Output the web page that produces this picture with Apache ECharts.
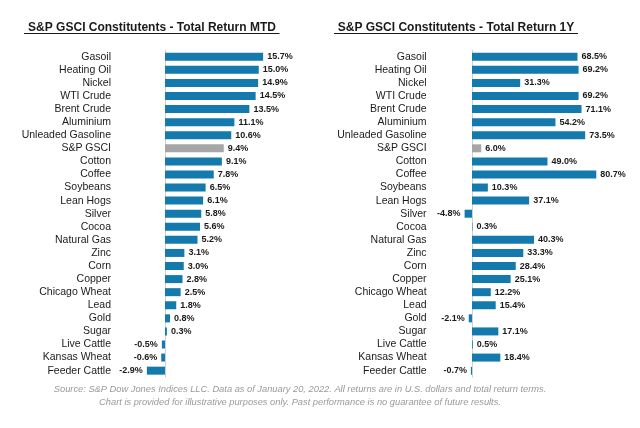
<!DOCTYPE html>
<html>
<head>
<meta charset="utf-8">
<script src="https://cdn.jsdelivr.net/npm/echarts@6/dist/echarts.min.js"></script>
<style>
html,body{margin:0;padding:0;background:#fff;}
#c{width:640px;height:428px;}
</style>
</head>
<body>
<div id="c"></div>
<script>
const categories = ["Gasoil","Heating Oil","Nickel","WTI Crude","Brent Crude","Aluminium","Unleaded Gasoline","S&P GSCI","Cotton","Coffee","Soybeans","Lean Hogs","Silver","Cocoa","Natural Gas","Zinc","Corn","Copper","Chicago Wheat","Lead","Gold","Sugar","Live Cattle","Kansas Wheat","Feeder Cattle"];
const mtdValues = [15.7,15.0,14.9,14.5,13.5,11.1,10.6,9.4,9.1,7.8,6.5,6.1,5.8,5.6,5.2,3.1,3.0,2.8,2.5,1.8,0.8,0.3,-0.5,-0.6,-2.9];
const oneYearValues = [68.5,69.2,31.3,69.2,71.1,54.2,73.5,6.0,49.0,80.7,10.3,37.1,-4.8,0.3,40.3,33.3,28.4,25.1,12.2,15.4,-2.1,17.1,0.5,18.4,-0.7];
const titleLeft = "S&P GSCI Constitutents - Total Return MTD";
const titleRight = "S&P GSCI Constitutents - Total Return 1Y";
const footer1 = "Source: S&P Dow Jones Indices LLC. Data as of January 20, 2022. All returns are in U.S. dollars and total return terms.";
const footer2 = "Chart is provided for illustrative purposes only. Past performance is no guarantee of future results.";

const FONT = "'Liberation Sans', Arial, sans-serif";
const BLUE = "#1479AD";
const GREY = "#A6A6A6";

function mkData(vals){
  return vals.map((v,i)=>({
    value: v,
    itemStyle: {color: categories[i]==="S&P GSCI" ? GREY : BLUE},
    label: {position: v < 0 ? 'left' : 'right'}
  }));
}

const chart = echarts.init(document.getElementById('c'), null, {renderer:'canvas'});
const gridTop = 50.2, gridH = 327;
const yAxisCommon = {
  type:'category', data: categories, inverse:true,
  axisLine:{onZero:true, lineStyle:{color:'#d0d0d0', width:1}},
  axisTick:{show:false},
  axisLabel:{color:'#1a1a1a', fontSize:10.5, fontFamily:FONT, interval:0}
};
const xAxisCommon = {type:'value', show:false, splitLine:{show:false}};
const seriesCommon = {
  type:'bar', barWidth:8,
  label:{show:true, fontSize:9, fontWeight:'bold', color:'#1a1a1a', fontFamily:FONT, distance:4,
         formatter: p => p.value.toFixed(1) + '%'}
};

chart.setOption({
  animation:false,
  grid:[
    {left:140, width:150, top:gridTop, height:gridH},
    {left:456.6, width:154, top:gridTop, height:gridH}
  ],
  xAxis:[
    Object.assign({gridIndex:0, min:-4, max:20, interval:4}, xAxisCommon),
    Object.assign({gridIndex:1, min:-10, max:90, interval:10}, xAxisCommon)
  ],
  yAxis:[
    Object.assign({}, yAxisCommon, {gridIndex:0, axisLabel:Object.assign({}, yAxisCommon.axisLabel, {margin:29})}),
    Object.assign({}, yAxisCommon, {gridIndex:1, axisLabel:Object.assign({}, yAxisCommon.axisLabel, {margin:30})})
  ],
  series:[
    Object.assign({}, seriesCommon, {xAxisIndex:0, yAxisIndex:0, data: mkData(mtdValues)}),
    Object.assign({}, seriesCommon, {xAxisIndex:1, yAxisIndex:1, data: mkData(oneYearValues)})
  ],
  graphic:[
    {type:'text', x:152, y:27.5, style:{text:titleLeft, fill:'#1a1a1a', font:"bold 12px "+FONT, textAlign:'center', textVerticalAlign:'middle'}},
    {type:'line', shape:{x1:24, y1:33.5, x2:279.5, y2:33.5}, style:{stroke:'#1a1a1a', lineWidth:1}},
    {type:'text', x:456, y:27.5, style:{text:titleRight, fill:'#1a1a1a', font:"bold 12px "+FONT, textAlign:'center', textVerticalAlign:'middle'}},
    {type:'line', shape:{x1:334, y1:33.5, x2:578, y2:33.5}, style:{stroke:'#1a1a1a', lineWidth:1}},
    {type:'text', x:300, y:389, style:{text:footer1, fill:'#9a9a9a', font:"italic 9.3px "+FONT, textAlign:'center', textVerticalAlign:'middle'}},
    {type:'text', x:300, y:402, style:{text:footer2, fill:'#9a9a9a', font:"italic 9.3px "+FONT, textAlign:'center', textVerticalAlign:'middle'}}
  ]
});
</script>
</body>
</html>
